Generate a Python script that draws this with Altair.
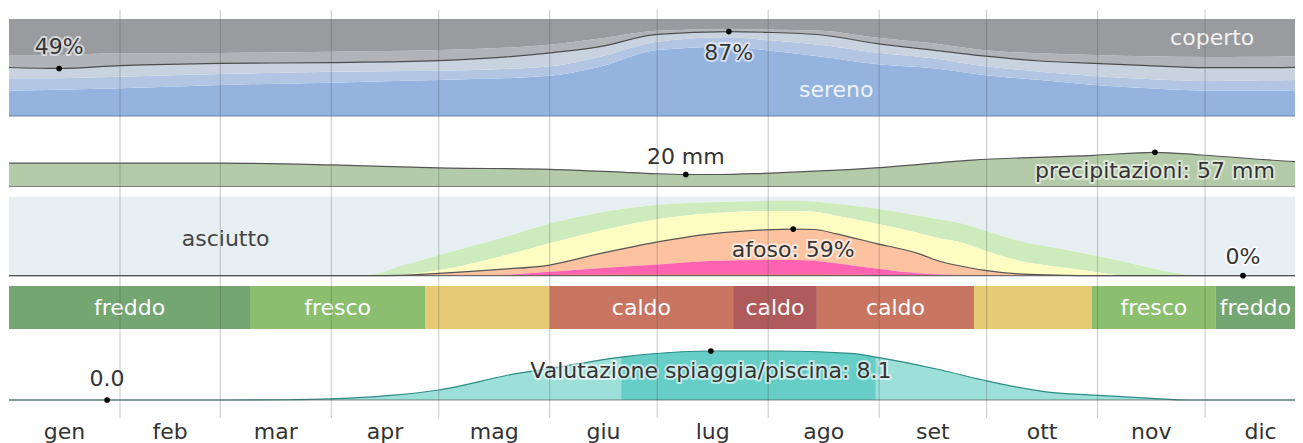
import altair as alt
import pandas as pd

# ---------------- data ----------------
months = ["gen", "feb", "mar", "apr", "mag", "giu", "lug", "ago", "set", "ott", "nov", "dic"]
month_mid = [15.5, 45, 74.5, 105, 135.5, 166, 196.5, 227.5, 258, 288.5, 319, 349.5]
month_start = [31, 59, 90, 120, 151, 181, 212, 243, 273, 304, 334]

cloud_day = [0, 14, 31, 59, 90, 120, 150, 165, 181, 201, 211, 227, 242, 258, 272, 288, 303, 318, 334, 348, 365]
cloud_clear = [26, 27, 28.5, 32, 34.4, 37, 41.2, 50.9, 68, 71.5, 68, 61, 53.5, 49.1, 42.3, 37.1, 32, 28.5, 26.1, 26, 27]
cloud_mostly_clear = [38.8, 39, 40.5, 43.3, 45.7, 46.7, 50.9, 61.2, 76.6, 81.1, 78.4, 73.2, 65.5, 59.5, 51.5, 45.7, 41.2, 38.1, 36, 36.5, 37.5]
cloud_partly = [50, 49, 51.9, 54.3, 55, 57, 64.6, 71.5, 84.2, 87, 86.3, 83.5, 74.9, 68, 61.9, 56.7, 54.3, 51.9, 49.8, 49.8, 50.5]
cloud_mostly_cloudy = [62.9, 63, 64.6, 65, 66.3, 68, 73.2, 80, 88, 89.5, 89.3, 88, 81, 74.9, 68, 64.6, 63, 61.5, 60.8, 61, 62]

rain_day = [0, 31, 59, 90, 120, 151, 178, 189, 198, 211, 242, 269, 303, 320, 333, 361, 365]
rain_mm = [39, 39, 39, 36, 31, 28.7, 22, 20, 20, 22, 31, 44, 52, 57, 52.5, 41, 40]

hum_day = [0, 93, 102, 109, 120, 137, 151, 165, 179, 196, 211, 219, 225, 231, 242, 254, 260, 266, 272, 283, 295, 303, 312, 324, 333, 344.6, 365]
hum_miserable = [0, 0, 0, 0, 0.2, 0.5, 1, 1.3, 1.5, 1.5, 1.5, 1.5, 1.5, 1.3, 1, 0.7, 0.5, 0.4, 0.3, 0, 0, 0, 0, 0, 0, 0, 0]
hum_oppressive = [0, 0, 0, 0, 0.3, 1, 5, 9.5, 13.5, 18.6, 20, 20, 19, 15.7, 9, 3, 1.5, 1, 0.5, 0, 0, 0, 0, 0, 0, 0, 0]
hum_muggy = [0, 0, 0, 0.5, 3, 8, 13.5, 28, 41, 53, 58, 59, 58.5, 53, 41, 28, 18, 12, 7, 2, 0.5, 0, 0, 0, 0, 0, 0]
hum_humid = [0, 0, 0, 1, 7, 24, 41, 57, 70, 79, 82, 82, 81, 76, 66, 54, 47, 42, 32.5, 18, 10, 5, 0, 0, 0, 0, 0]
hum_comfortable = [0, 0, 2, 12, 26, 47, 66, 80, 89, 93, 94.6, 95, 94, 91, 85, 76, 71, 66, 58, 43, 33, 26, 17, 5, 0, 0, 0]

temp_start = [0, 67.3, 116.2, 151, 202.2, 225.6, 269.5, 302.4, 337]
temp_end = [67.3, 116.2, 151, 202.2, 225.6, 269.5, 302.4, 337, 365]
temp_cat = ["freddo", "fresco", "confortevole", "caldo", "molto caldo", "caldo", "confortevole", "fresco", "freddo"]
temp_label = ["freddo", "fresco", "", "caldo", "caldo", "caldo", "", "fresco", "freddo"]

beach_day = [0, 27.4, 60, 80, 95, 107.5, 120, 142, 151, 171, 179, 196, 214, 235, 242, 260, 272, 289, 303, 318, 330, 365]
beach_score = [0, 0, 0, 0.05, 0.3, 0.8, 1.65, 4.4, 5.2, 7.1, 7.6, 8.1, 8.1, 7.7, 7.1, 5, 3.3, 1.4, 0.8, 0.3, 0, 0]
beach_best = [171, 242]

# ---------------- layout / style ----------------
W, H = 1286, 435
PX_PER_DAY = 3.581
XMAX = W / PX_PER_DAY
FONT = "DejaVu Sans"
FS = 22
TXT = "#333333"

X = lambda f="day": alt.X(f"{f}:Q", scale=alt.Scale(domain=[0, XMAX]), axis=None)

cloud_sc = alt.Scale(domain=[0, 100], range=[108, 11])
rain_sc = alt.Scale(domain=[0, 100], range=[178.5, 118.5])
hum_sc = alt.Scale(domain=[0, 100], range=[267.7, 188.7])
beach_sc = alt.Scale(domain=[0, 10], range=[392, 331.5])

cloud = pd.DataFrame({"day": cloud_day, "b1": cloud_clear, "b2": cloud_mostly_clear,
                      "b3": cloud_partly, "b4": cloud_mostly_cloudy})
cloud["b0"] = 0
cloud["b5"] = 100
rain = pd.DataFrame({"day": rain_day, "mm": rain_mm})
rain["zero"] = 0
hum = pd.DataFrame({"day": hum_day, "h1": hum_miserable, "h2": hum_oppressive, "h3": hum_muggy,
                    "h4": hum_humid, "h5": hum_comfortable})
hum["h0"] = 0
hum["h6"] = 100
temp = pd.DataFrame({"start": temp_start, "end": temp_end, "cat": temp_cat, "label": temp_label})
temp["mid"] = (temp["start"] + temp["end"].clip(upper=XMAX)) / 2
beach = pd.DataFrame({"day": beach_day, "score": beach_score})
beach["zero"] = 0
beach_hi = beach[(beach.day >= beach_best[0]) & (beach.day <= beach_best[1])]


def band(df, lo, hi, sc, color, opacity=1):
    return alt.Chart(df).mark_area(color=color, opacity=opacity, interpolate="monotone", clip=True).encode(
        x=X(), y=alt.Y(f"{hi}:Q", scale=sc, axis=None), y2=alt.Y2(f"{lo}:Q"))


def curve(df, f, sc, color, width=1.2):
    return alt.Chart(df).mark_line(color=color, strokeWidth=width, interpolate="monotone", clip=True).encode(
        x=X(), y=alt.Y(f"{f}:Q", scale=sc, axis=None))


def baseline(sc, color, opacity=0.7):
    return alt.Chart(pd.DataFrame({"v": [0]})).mark_rule(color=color, opacity=opacity, strokeWidth=1.2).encode(
        y=alt.Y("v:Q", scale=sc, axis=None))


def dot(day, val, sc):
    return alt.Chart(pd.DataFrame({"day": [day], "v": [val]})).mark_circle(color="black", size=32, opacity=1).encode(
        x=X(), y=alt.Y("v:Q", scale=sc, axis=None))


def label(day, val, sc, text, dy=0, dx=0, color=TXT, halo=True, size=FS, halo_op=0.8):
    d = pd.DataFrame({"day": [day], "v": [val], "t": [text]})
    enc = dict(x=X(), y=alt.Y("v:Q", scale=sc, axis=None), text="t:N")
    out = []
    if halo:
        out.append(alt.Chart(d).mark_text(font=FONT, fontSize=size, dy=dy, dx=dx, stroke="white", strokeWidth=4,
                                          strokeOpacity=halo_op, strokeJoin="round", fill="white", fillOpacity=halo_op,
                                          baseline="middle").encode(**enc))
    out.append(alt.Chart(d).mark_text(font=FONT, fontSize=size, dy=dy, dx=dx, color=color,
                                      baseline="middle").encode(**enc))
    return out


layers = []

# cloud cover
layers += [
    band(cloud, "b0", "b1", cloud_sc, "#94b3df"),
    band(cloud, "b1", "b2", cloud_sc, "#b2c6e3"),
    band(cloud, "b2", "b3", cloud_sc, "#c9d2df"),
    band(cloud, "b3", "b4", cloud_sc, "#b0b3b8"),
    band(cloud, "b4", "b5", cloud_sc, "#999b9f"),
    curve(cloud, "b3", cloud_sc, "#4d4d4d", 1.2),
    baseline(cloud_sc, "#5b6f8f", 0.8),
    dot(14, 49, cloud_sc), dot(201, 87, cloud_sc),
]
layers += label(14, 49, cloud_sc, "49%", dy=-21, halo_op=0.6)
layers += label(201, 87, cloud_sc, "87%", dy=21, halo_op=0.6)
layers += label(336, 80.4, cloud_sc, "coperto", color="#f2f2f2", halo=False)
layers += label(231, 26.8, cloud_sc, "sereno", color="#eef3fb", halo=False)

# precipitation
layers += [
    band(rain, "zero", "mm", rain_sc, "#b3cba9"),
    curve(rain, "mm", rain_sc, "#555555", 1.2),
    baseline(rain_sc, "#666666", 0.8),
    dot(189, 20, rain_sc), dot(320, 57, rain_sc),
]
layers += label(189, 20, rain_sc, "20 mm", dy=-18)
layers += label(320, 57, rain_sc, "precipitazioni: 57 mm", dy=19, halo_op=0.55)

# humidity
layers += [
    band(hum, "h5", "h6", hum_sc, "#e7eff3"),
    band(hum, "h4", "h5", hum_sc, "#cdebbd"),
    band(hum, "h3", "h4", hum_sc, "#fdfcc2"),
    band(hum, "h2", "h3", hum_sc, "#fdc3a0"),
    band(hum, "h1", "h2", hum_sc, "#fd63b0"),
    band(hum, "h0", "h1", hum_sc, "#d9503c"),
    curve(hum, "h3", hum_sc, "#555555", 1.2),
    baseline(hum_sc, "#555555", 0.8),
    dot(219, 59, hum_sc), dot(344.6, 0, hum_sc),
]
layers += label(60.5, 47, hum_sc, "asciutto", color="#444444", halo=False)
layers += label(219, 59, hum_sc, "afoso: 59%", dy=21, halo_op=0.6)
layers += label(344.6, 0, hum_sc, "0%", dy=-19)

# temperature bands
temp_scale = alt.Scale(domain=["freddo", "fresco", "confortevole", "caldo", "molto caldo"],
                       range=["#74a672", "#8bbe6f", "#e6ca74", "#c87561", "#b05b5b"])
layers.append(alt.Chart(temp).mark_rect(clip=True).encode(
    x=X("start"), x2="end:Q", y=alt.value(278), y2=alt.value(321),
    color=alt.Color("cat:N", scale=temp_scale, legend=None)))
layers.append(alt.Chart(temp).mark_text(font=FONT, fontSize=FS, color="white", baseline="middle").encode(
    x=X("mid"), y=alt.value(299.5), text="label:N"))

# beach / pool score
layers += [
    band(beach, "zero", "score", beach_sc, "#9de0d9"),
    band(beach_hi, "zero", "score", beach_sc, "#66cdc7"),
    curve(beach, "score", beach_sc, "#2c8c86", 1.2),
    baseline(beach_sc, "#555555", 0.7),
    dot(27.4, 0, beach_sc), dot(196, 8.1, beach_sc),
]
layers += label(27.4, 0, beach_sc, "0.0", dy=-21)
layers += label(196, 8.1, beach_sc, "Valutazione spiaggia/piscina: 8.1", dy=20, halo_op=0.6)

# month grid lines and labels
layers.append(alt.Chart(pd.DataFrame({"day": month_start})).mark_rule(color="#444444", opacity=0.3, strokeWidth=1).encode(
    x=X(), y=alt.value(2), y2=alt.value(410)))
layers.append(alt.Chart(pd.DataFrame({"day": month_mid, "m": months})).mark_text(
    font=FONT, fontSize=FS, color=TXT, baseline="alphabetic").encode(x=X(), y=alt.value(431), text="m:N"))

chart = alt.layer(*layers).resolve_scale(y="independent").properties(
    width=W, height=H, autosize=alt.AutoSizeParams(type="none"),
    padding={"left": 1, "top": 0, "right": 0, "bottom": 0},
).configure_view(stroke=None)

chart.save("out.html", embed_options={"renderer": "svg", "actions": False})
